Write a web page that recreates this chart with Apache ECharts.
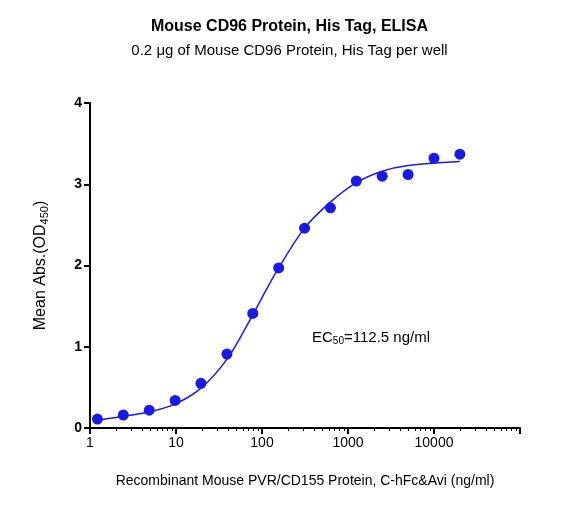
<!DOCTYPE html>
<html><head><meta charset="utf-8">
<script src="https://cdn.jsdelivr.net/npm/echarts@6/dist/echarts.min.js"></script>
<style>html,body{margin:0;background:#fff}#c{width:579px;height:507px}</style>
</head><body><div id="c"></div>
<script>
var conc = [1.22, 2.44, 4.88, 9.77, 19.5, 39.1, 78.1, 156.25, 312.5, 625, 1250, 2500, 5000, 10000, 20000];
var absorbance = [0.11, 0.16, 0.22, 0.34, 0.55, 0.91, 1.41, 1.97, 2.46, 2.71, 3.04, 3.10, 3.12, 3.32, 3.37];
var fitX = [1.22, 2, 5, 10, 20, 40, 70, 112, 156, 312, 625, 1250, 2500, 5000, 20000];
var fitY = [0.10, 0.13, 0.20, 0.30, 0.50, 0.86, 1.30, 1.70, 1.97, 2.46, 2.78, 3.02, 3.16, 3.23, 3.28];
var yTicks = [0, 1, 2, 3, 4];
var blue = '#1a1ae8';
var font = 'Arial, "Liberation Sans", sans-serif';

var chart = echarts.init(document.getElementById('c'));
chart.setOption({
    title: {
        text: 'Mouse CD96 Protein, His Tag, ELISA',
        subtext: '0.2 μg of Mouse CD96 Protein, His Tag per well',
        left: 'center', top: 14, itemGap: 8,
        textStyle: {fontFamily: font, fontSize: 16, fontWeight: 'bold', color: '#000'},
        subtextStyle: {fontFamily: font, fontSize: 15, color: '#000'}
    },
    grid: {left: 90, right: 59, top: 103, bottom: 79},
    xAxis: {
        type: 'log', min: 1, max: 100000, logBase: 10,
        name: 'Recombinant Mouse PVR/CD155 Protein, C-hFc&Avi (ng/ml)',
        nameLocation: 'middle', nameGap: 46,
        nameTextStyle: {fontFamily: font, fontSize: 14, color: '#000'},
        axisLine: {lineStyle: {color: '#000', width: 2}},
        axisTick: {length: 6, lineStyle: {color: '#000', width: 2}},
        minorTick: {show: true, splitNumber: 9, length: 3, lineStyle: {color: '#000'}},
        axisLabel: {fontFamily: font, fontSize: 14, color: '#000',
            formatter: function (v) { return v >= 100000 ? '' : String(v); }},
        splitLine: {show: false}
    },
    yAxis: {
        type: 'value', min: yTicks[0], max: yTicks[yTicks.length - 1], interval: 1,
        name: '{a|Mean Abs.(OD}{s|450}{a|)}',
        nameLocation: 'middle', nameGap: 40,
        nameTextStyle: {rich: {
            a: {fontFamily: font, fontSize: 16, color: '#000'},
            s: {fontFamily: font, fontSize: 11, color: '#000', verticalAlign: 'bottom', padding: [8, 0, 0, 0]}
        }},
        axisLine: {show: true, lineStyle: {color: '#000', width: 2}},
        axisTick: {show: true, length: 6, lineStyle: {color: '#000', width: 2}},
        axisLabel: {fontFamily: font, fontSize: 14, color: '#000', fontWeight: 'bold'},
        splitLine: {show: false}
    },
    graphic: [{
        type: 'text', left: 312, top: 330,
        style: {
            text: '{a|EC}{s|50}{a|=112.5 ng/ml}',
            rich: {
                a: {fontFamily: font, fontSize: 15, fill: '#000'},
                s: {fontFamily: font, fontSize: 10, fill: '#000', padding: [8, 0, 0, 0]}
            }
        }
    }],
    series: [{
        type: 'line', smooth: 0.3, showSymbol: false, silent: true,
        data: fitX.map(function (x, i) { return [x, fitY[i]]; }),
        lineStyle: {color: blue, width: 1.5}
    }, {
        type: 'scatter', symbolSize: 11,
        data: conc.map(function (x, i) { return [x, absorbance[i]]; }),
        itemStyle: {color: blue, opacity: 1}
    }]
});
</script></body></html>
